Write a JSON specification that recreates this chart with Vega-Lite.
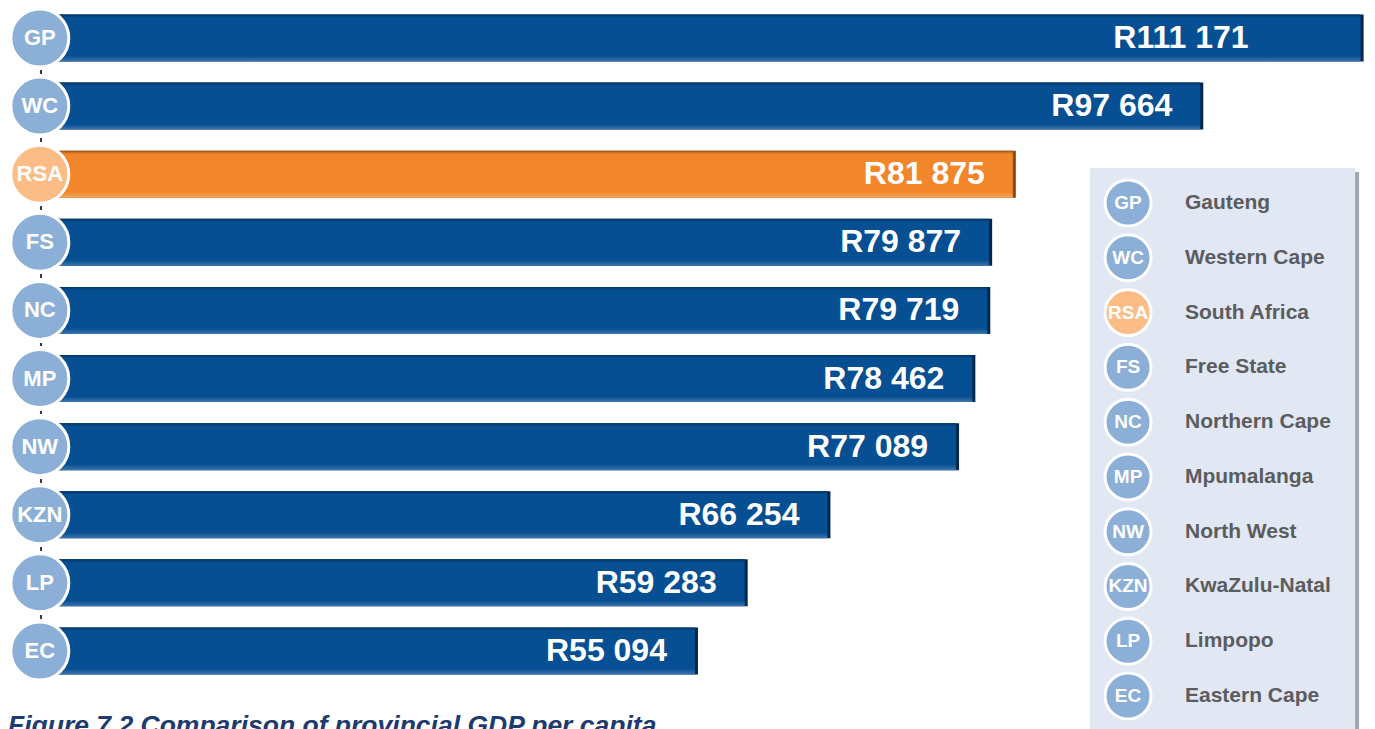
{
  "$schema": "https://vega.github.io/schema/vega-lite/v6.json",
  "width": 1375,
  "height": 729,
  "autosize": "none",
  "padding": 0,
  "background": "white",
  "config": {"view": {"stroke": null}, "font": "Liberation Sans"},
  "datasets": {
    "gdp": [
      {"rank": 1, "code": "GP", "name": "Gauteng", "value": 111171, "label": "R111 171"},
      {"rank": 2, "code": "WC", "name": "Western Cape", "value": 97664, "label": "R97 664"},
      {"rank": 3, "code": "RSA", "name": "South Africa", "value": 81875, "label": "R81 875"},
      {"rank": 4, "code": "FS", "name": "Free State", "value": 79877, "label": "R79 877"},
      {"rank": 5, "code": "NC", "name": "Northern Cape", "value": 79719, "label": "R79 719"},
      {"rank": 6, "code": "MP", "name": "Mpumalanga", "value": 78462, "label": "R78 462"},
      {"rank": 7, "code": "NW", "name": "North West", "value": 77089, "label": "R77 089"},
      {"rank": 8, "code": "KZN", "name": "KwaZulu-Natal", "value": 66254, "label": "R66 254"},
      {"rank": 9, "code": "LP", "name": "Limpopo", "value": 59283, "label": "R59 283"},
      {"rank": 10, "code": "EC", "name": "Eastern Cape", "value": 55094, "label": "R55 094"}
    ],
    "caption": [{"text": "Figure 7.2 Comparison of provincial GDP per capita"}],
    "panel": [{"panel": "legend"}]
  },
  "layer": [
    {
      "data": {"name": "gdp"},
      "encoding": {
        "y": {
          "field": "code", "type": "nominal", "axis": null,
          "scale": {"domain": ["GP","WC","RSA","FS","NC","MP","NW","KZN","LP","EC"], "paddingInner": 0.31, "paddingOuter": 0.507, "align": 0.21}
        }
      },
      "layer": [
        {
          "mark": {"type": "rule", "strokeDash": [3, 65.11], "strokeDashOffset": 35.6, "strokeWidth": 2, "color": "#3a3a3a"},
          "encoding": {
            "x": {"datum": 0, "type": "quantitative", "scale": {"domain": [-3454, 112384], "nice": false, "zero": false}, "axis": null},
            "y": {"datum": "GP"},
            "y2": {"datum": "EC"}
          }
        },
        {
          "mark": {"type": "bar", "xOffset": 3},
          "encoding": {
            "x": {"field": "value", "type": "quantitative", "scale": {"domain": [-3454, 112384], "nice": false, "zero": false}, "axis": null},
            "color": {"condition": {"test": "datum.code === 'RSA'", "value": "#8a4a14"}, "value": "#02274d"}
          }
        },
        {
          "transform": [{"filter": "datum.code !== 'RSA'"}],
          "mark": {"type": "bar", "color": {"gradient": "linear", "x1": 0, "y1": 0, "x2": 0, "y2": 1, "stops": [{"offset": 0, "color": "#023566"}, {"offset": 0.07, "color": "#054f92"}, {"offset": 0.88, "color": "#054f92"}, {"offset": 1, "color": "#3f74ad"}]}},
          "encoding": {
            "x": {"field": "value", "type": "quantitative", "scale": {"domain": [-3454, 112384], "nice": false, "zero": false}, "axis": null}
          }
        },
        {
          "transform": [{"filter": "datum.code === 'RSA'"}],
          "mark": {"type": "bar", "color": {"gradient": "linear", "x1": 0, "y1": 0, "x2": 0, "y2": 1, "stops": [{"offset": 0, "color": "#9a5212"}, {"offset": 0.07, "color": "#f2862a"}, {"offset": 0.88, "color": "#f2862a"}, {"offset": 1, "color": "#f6a860"}]}},
          "encoding": {
            "x": {"field": "value", "type": "quantitative", "scale": {"domain": [-3454, 112384], "nice": false, "zero": false}, "axis": null}
          }
        },
        {
          "mark": {"type": "point", "shape": "circle", "filled": true, "size": 3364, "stroke": "white", "strokeWidth": 3, "opacity": 1},
          "encoding": {
            "x": {"datum": -100, "type": "quantitative"},
            "fill": {"condition": {"test": "datum.code === 'RSA'", "value": "#fbbd85"}, "value": "#8cafd8"}
          }
        },
        {
          "mark": {"type": "text", "color": "white", "fontWeight": "bold", "fontSize": 22, "align": "center", "baseline": "middle"},
          "encoding": {
            "x": {"datum": -100, "type": "quantitative"},
            "text": {"field": "code"}
          }
        },
        {
          "transform": [{"filter": "datum.code !== 'GP'"}],
          "mark": {"type": "text", "color": "white", "fontWeight": "bold", "fontSize": 32, "align": "right", "baseline": "middle", "dx": -28},
          "encoding": {
            "x": {"field": "value", "type": "quantitative"},
            "text": {"field": "label"}
          }
        },
        {
          "transform": [{"filter": "datum.code === 'GP'"}],
          "mark": {"type": "text", "color": "white", "fontWeight": "bold", "fontSize": 32, "align": "right", "baseline": "middle", "dx": -112},
          "encoding": {
            "x": {"field": "value", "type": "quantitative"},
            "text": {"field": "label"}
          }
        }
      ]
    },
    {
      "layer": [
        {
          "data": {"name": "panel"},
          "mark": {"type": "rect", "color": "#a3a7ae"},
          "encoding": {
            "x": {"datum": 0.7927, "type": "quantitative", "scale": {"domain": [0, 1], "nice": false, "zero": false}, "axis": null},
            "x2": {"datum": 0.9884},
            "y": {"datum": 0.434, "type": "quantitative", "axis": null, "scale": {"domain": [-2.706, 10.602], "reverse": true, "nice": false, "zero": false}},
            "y2": {"datum": 11}
          }
        },
        {
          "data": {"name": "panel"},
          "mark": {"type": "rect", "color": "#e1e7f3"},
          "encoding": {
            "x": {"datum": 0.7927, "type": "quantitative"},
            "x2": {"datum": 0.9855},
            "y": {"datum": 0.361, "type": "quantitative"},
            "y2": {"datum": 11}
          }
        },
        {
          "data": {"name": "gdp"},
          "mark": {"type": "point", "shape": "circle", "filled": true, "size": 2116, "stroke": "white", "strokeWidth": 3, "opacity": 1},
          "encoding": {
            "x": {"datum": 0.8204, "type": "quantitative"},
            "y": {"field": "rank", "type": "quantitative"},
            "fill": {"condition": {"test": "datum.code === 'RSA'", "value": "#fbbd85"}, "value": "#8cafd8"}
          }
        },
        {
          "data": {"name": "gdp"},
          "mark": {"type": "text", "color": "white", "fontWeight": "bold", "fontSize": 19, "align": "center", "baseline": "middle"},
          "encoding": {
            "x": {"datum": 0.8204, "type": "quantitative"},
            "y": {"field": "rank", "type": "quantitative"},
            "text": {"field": "code"}
          }
        },
        {
          "data": {"name": "gdp"},
          "mark": {"type": "text", "color": "#5b5c5e", "fontWeight": "bold", "fontSize": 21, "align": "left", "baseline": "middle"},
          "encoding": {
            "x": {"datum": 0.8618, "type": "quantitative"},
            "y": {"field": "rank", "type": "quantitative"},
            "text": {"field": "name"}
          }
        },
        {
          "data": {"name": "caption"},
          "mark": {"type": "text", "color": "#1d3b6f", "fontWeight": "bold", "fontStyle": "italic", "fontSize": 26.5, "align": "left", "baseline": "alphabetic"},
          "encoding": {
            "x": {"datum": 0.0058, "type": "quantitative"},
            "y": {"datum": 10.693, "type": "quantitative"},
            "text": {"field": "text"}
          }
        }
      ]
    }
  ],
  "resolve": {"scale": {"x": "independent", "y": "independent"}}
}
